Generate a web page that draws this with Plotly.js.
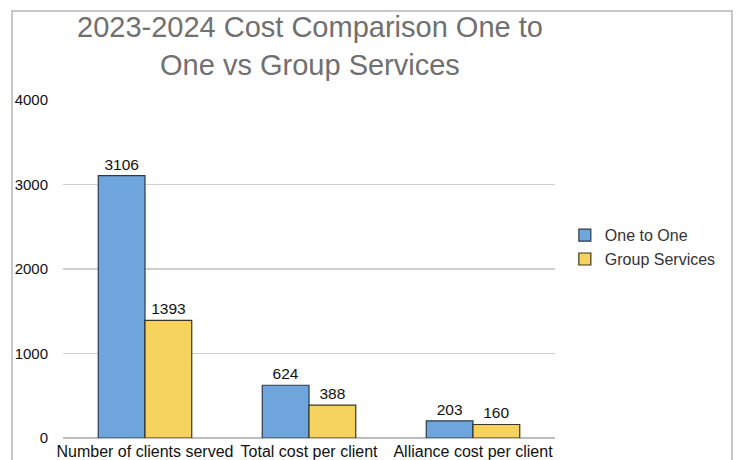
<!DOCTYPE html>
<html><head><meta charset="utf-8">
<script src="https://cdn.plot.ly/plotly-3.0.1.min.js"></script>
<style>html,body{margin:0;padding:0;background:#fff;}#wrap{position:relative;width:738px;height:460px;}
#frame{position:absolute;left:11px;top:10px;width:722px;height:470px;border:2px solid #c8c8c8;box-sizing:border-box;pointer-events:none;}</style>
</head><body><div id="wrap"><div id="chart" style="width:738px;height:460px;"></div><div id="frame"></div></div>
<script>
const categories = ["Number of clients served", "Total cost per client", "Alliance cost per client"];
const oneToOne = [3106, 624, 203];
const groupServices = [1393, 388, 160];
const seriesNames = ["One to One", "Group Services"];
const tickVals = [0, 1000, 2000, 3000, 4000];

const font = "Liberation Sans, Arial, sans-serif";
const traces = [
  {type:"bar", name:seriesNames[0], x:categories, y:oneToOne, text:oneToOne.map(String), textposition:"outside",
   textfont:{family:font,size:15.5,color:"#111"}, cliponaxis:false,
   marker:{color:"#6FA5DD", line:{color:"#2c3a4a", width:1.2}}},
  {type:"bar", name:seriesNames[1], x:categories, y:groupServices, text:groupServices.map(String), textposition:"outside",
   textfont:{family:font,size:15.5,color:"#111"}, cliponaxis:false,
   marker:{color:"#F6D35F", line:{color:"#3a3520", width:1.2}}}
];
const layout = {
  width:738, height:460,
  margin:{l:63, r:183, t:100, b:22, pad:0},
  paper_bgcolor:"#fff", plot_bgcolor:"#fff",
  title:{text:"2023-2024 Cost Comparison One to<br>One vs Group Services", x:0.42, xanchor:"center", y:0.92, yanchor:"top",
    font:{family:font, size:29, color:"#707070"}},
  barmode:"group", bargap:0.43, bargroupgap:0,
  showlegend:true,
  legend:{x:1.02, y:0.65, xanchor:"left", yanchor:"top", font:{family:font,size:16,color:"#333"}, tracegroupgap:0, itemwidth:30},
  xaxis:{automargin:false, showgrid:false, showline:false, ticks:"", tickfont:{family:font,size:16,color:"#111"}, ticklabelstandoff:2},
  yaxis:{automargin:false, range:[0,4000], tickvals:tickVals, ticktext:tickVals.map(String), showgrid:true, gridcolor:"#cfcfcf", gridwidth:1.5,
    zeroline:true, zerolinecolor:"#bdbdbd", zerolinewidth:2, showline:false, ticks:"",
    tickfont:{family:font,size:15,color:"#111"}, ticklabelstandoff:14}
};
Plotly.newPlot("chart", traces, layout, {displayModeBar:false, staticPlot:true});
</script></body></html>
